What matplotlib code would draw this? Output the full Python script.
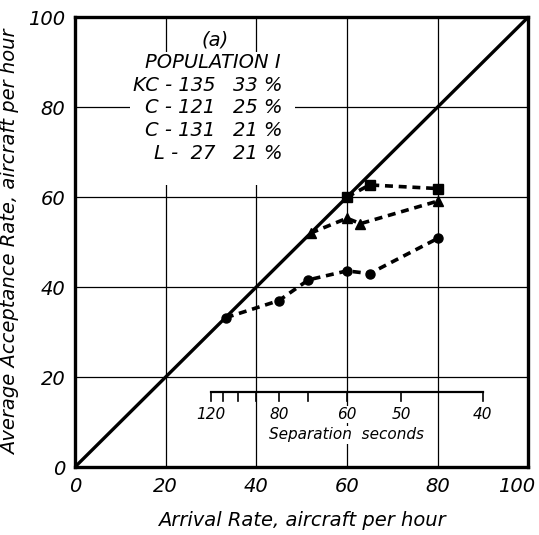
import matplotlib
matplotlib.use("Agg")
import matplotlib.pyplot as plt
import matplotlib.transforms as mtransforms
from matplotlib.patches import Rectangle

plt.rcParams['font.family'] = ['DejaVu Sans']

# Data
grid_vals = [20, 40, 60, 80]
axis_ticks = [0, 20, 40, 60, 80, 100]

sq_x = [60, 65, 80]
sq_y = [60, 62.7, 61.9]

tri_x = [52, 60, 63, 80]
tri_y = [52, 55.3, 54.1, 59.1]

circ_x = [33.3, 45, 51.5, 60, 65, 80]
circ_y = [33.2, 37, 41.6, 43.6, 43, 50.8]

sep_ticks = [120, 110, 100, 90, 80, 70, 60, 50, 40]
sep_labels = [120, 80, 60, 50, 40]
sep_axis_y = 16.7

legend_title = ["(a)", "POPULATION I"]
aircraft = ["KC - 135", "C - 121", "C - 131", "L -  27"]
shares = ["33 %", "25 %", "21 %", "21 %"]

fig = plt.figure(figsize=(5.39, 5.35), dpi=100)
ax = fig.add_axes([0.139, 0.127, 0.841, 0.841])
ax.set_xlim(0, 100)
ax.set_ylim(0, 100)

for g in grid_vals:
    ax.axhline(g, color='black', lw=0.9, zorder=1)
    ax.axvline(g, color='black', lw=0.9, zorder=1)

ax.plot([0, 100], [0, 100], color='black', lw=2.4, zorder=3)

dash = (0, (2.2, 1.6))
ax.plot(sq_x, sq_y, color='black', lw=2.6, ls=dash, marker='s', ms=6.5, zorder=4)
ax.plot(tri_x, tri_y, color='black', lw=2.6, ls=dash, marker='^', ms=6.5, zorder=4)
ax.plot(circ_x, circ_y, color='black', lw=2.6, ls=dash, marker='o', ms=6.5, zorder=4)

for s in ax.spines.values():
    s.set_linewidth(2.4)

ax.set_xticks(axis_ticks)
ax.set_yticks(axis_ticks)
ax.tick_params(length=0, labelsize=14, pad=7)
for lab in ax.get_xticklabels() + ax.get_yticklabels():
    lab.set_fontstyle('italic')
last = ax.get_xticklabels()[-1]
last.set_transform(last.get_transform() + mtransforms.ScaledTranslation(-0.12, 0, fig.dpi_scale_trans))

ax.set_xlabel("Arrival Rate, aircraft per hour", fontsize=14, fontstyle='italic', labelpad=11)
ax.set_ylabel("Average Acceptance Rate, aircraft per hour", fontsize=14, fontstyle='italic', labelpad=6)

# White area behind the legend-like text block
ax.add_patch(Rectangle((12.1, 62.7), 36.5, 29.5, facecolor='white', edgecolor='none', zorder=2))
ax.text(31, 94.9, legend_title[0], fontsize=14, fontstyle='italic', ha='center', va='center', zorder=5)
ax.text(30.5, 90, legend_title[1], fontsize=14, fontstyle='italic', ha='center', va='center', zorder=5)
rows_y = [84.9, 80, 74.9, 69.6]
for name, share, yy in zip(aircraft, shares, rows_y):
    ax.text(31, yy, name, fontsize=14, fontstyle='italic', ha='right', va='center', zorder=5)
    ax.text(34.8, yy, share, fontsize=14, fontstyle='italic', ha='left', va='center', zorder=5)

# Secondary separation axis
bb = dict(facecolor='white', edgecolor='none', pad=1.0)
sep_pos = [3600.0 / s for s in sep_ticks]
ax.plot([min(sep_pos), max(sep_pos)], [sep_axis_y, sep_axis_y], color='black', lw=1.6, zorder=5)
for p in sep_pos:
    ax.plot([p, p], [sep_axis_y, sep_axis_y - 2.0], color='black', lw=1.2, zorder=5)
for s in sep_labels:
    ax.text(3600.0 / s, sep_axis_y - 5.0, str(s), fontsize=11, fontstyle='italic',
            ha='center', va='center', bbox=bb, zorder=5)
ax.text(60, sep_axis_y - 9.5, "Separation  seconds", fontsize=11, fontstyle='italic',
        ha='center', va='center', bbox=bb, zorder=5)

fig.savefig("out.png", dpi=100)
